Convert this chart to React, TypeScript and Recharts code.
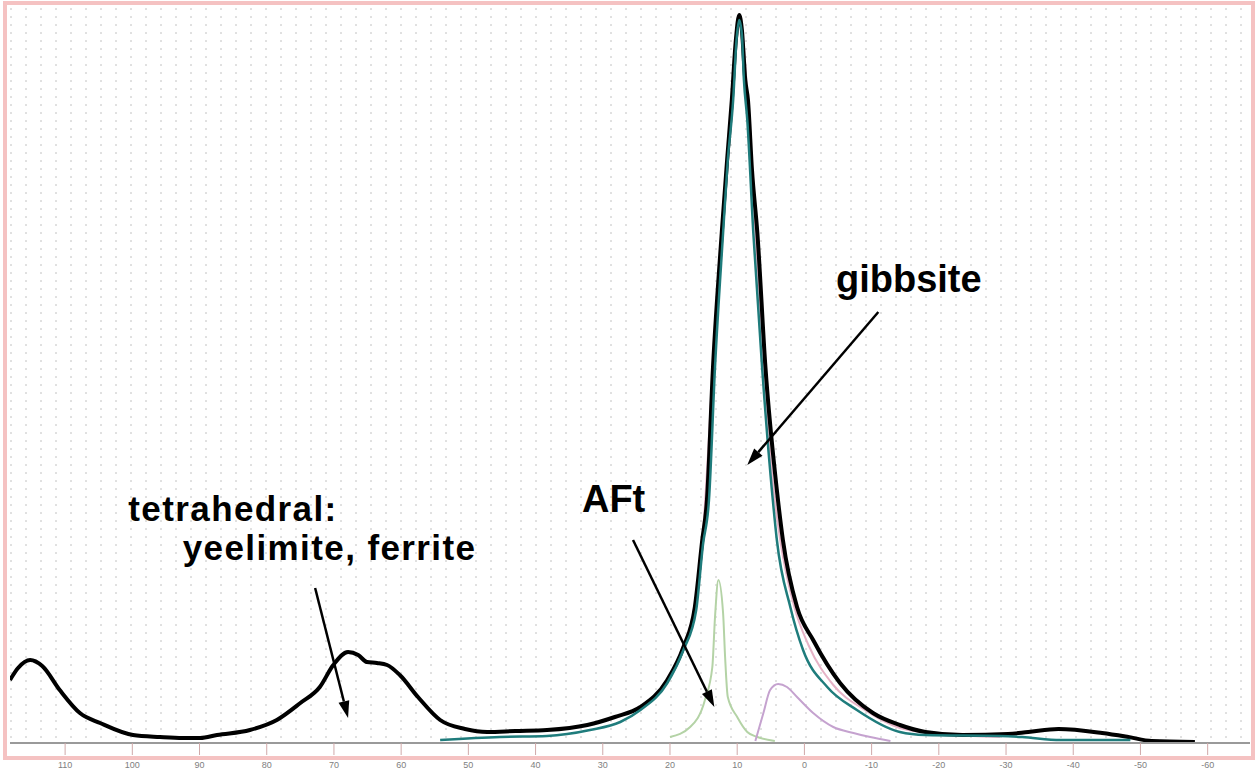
import React from 'react';
import {
  ComposedChart,
  Line,
  XAxis,
  YAxis,
  CartesianGrid,
  ReferenceLine,
  ReferenceDot,
} from 'recharts';

// 27Al MAS NMR spectrum: chemical shift (ppm) vs intensity (a.u.)
const xTicks = [110, 100, 90, 80, 70, 60, 50, 40, 30, 20, 10, 0, -10, -20, -30, -40, -50, -60];

// measured spectrum (thick black)
const totalPpm = [118.2, 117.0, 115.2, 113.4, 110.8, 107.8, 104.8, 99.9, 95.9, 92.5, 89.9, 87.4, 82.5, 78.5, 75.0, 72.1, 70.1, 67.9, 66.4, 65.1, 63.6, 62.1, 60.2, 57.5, 54.2, 50.5, 47.2, 43.0, 38.3, 32.3, 28.2, 24.4, 20.4, 18.0, 16.3, 15.2, 14.5, 13.6, 12.3, 11.5, 10.8, 10.2, 9.7, 9.3, 8.8, 8.4, 7.8, 7.0, 5.8, 4.1, 3.2, 1.1, -1.3, -5.3, -10.2, -14.2, -18.0, -23.5, -30.3, -33.3, -37.8, -44.3, -48.2, -51.7, -58.1];
const totalInt = [63, 75, 83, 77, 53, 30, 20, 8, 6, 5, 5, 8, 13, 23, 40, 56, 78, 91, 88, 81, 80, 78, 68, 46, 23, 14, 11, 12, 13, 18, 26, 36, 63, 96, 136, 203, 243, 376, 510, 583, 643, 703, 728, 713, 663, 643, 573, 510, 376, 253, 203, 136, 103, 60, 30, 18, 11, 8, 9, 11, 14, 10, 6, 2, 1];

// gibbsite fit (teal)
const gibbsitePpm = [54.2, 45.3, 38.3, 31.9, 27.4, 24.4, 20.4, 18.0, 16.1, 15.1, 14.2, 13.3, 12.1, 11.4, 10.6, 10.1, 9.7, 9.3, 9.0, 8.5, 7.6, 6.3, 4.7, 4.1, 2.1, 0.2, -3.4, -7.8, -14.2, -18.0, -29.1, -32.4, -38.1, -48.5];
const gibbsiteInt = [3, 6, 7, 13, 21, 33, 60, 93, 133, 198, 243, 376, 510, 583, 643, 703, 723, 708, 663, 623, 510, 376, 243, 203, 136, 93, 56, 33, 11, 8, 7, 6, 3, 3];

// sum of fitted components (pink)
const sumPpm = [24.4, 18.0, 15.2, 13.6, 11.5, 10.6, 9.7, 7.3, 6.1, 4.4, 3.6, 1.5, -0.6, -4.3, -9.0, -14.2, -20.2, -29.1];
const sumInt = [35, 95, 201, 376, 583, 663, 725, 510, 376, 243, 203, 136, 98, 58, 33, 15, 9, 6];

// AFt component (light green)
const aftPpm = [20.0, 17.0, 14.8, 13.7, 13.3, 12.8, 12.1, 11.8, 11.4, 10.0, 8.5, 7.0, 4.4];
const aftInt = [6, 16, 43, 76, 126, 163, 130, 86, 46, 26, 11, 6, 2];

// octahedral minor component (mauve)
const minorPpm = [7.3, 6.1, 5.1, 3.9, 2.6, 1.1, -1.3, -4.3, -7.3, -9.8, -12.8];
const minorInt = [2, 30, 53, 59, 56, 46, 30, 16, 10, 6, 2];

const toRows = (ppm: number[], val: number[]) => ppm.map((p, i) => ({ ppm: p, v: val[i] }));

const FONT = '"Liberation Sans", Arial, Helvetica, sans-serif';

const Arrow = (props: any) => {
  const { x1, y1, x2, y2 } = props;
  const ang = Math.atan2(y2 - y1, x2 - x1);
  const len = 17;
  const half = 5.5;
  const bx = x2 - len * Math.cos(ang);
  const by = y2 - len * Math.sin(ang);
  const px = -Math.sin(ang) * half;
  const py = Math.cos(ang) * half;
  return (
    <g>
      <line x1={x1} y1={y1} x2={bx} y2={by} stroke="#000" strokeWidth={2.5} />
      <polygon points={`${x2},${y2} ${bx + px},${by + py} ${bx - px},${by - py}`} fill="#000" />
    </g>
  );
};

const textShape = (label: string, size = 38, spacing = 0) => (props: any) => (
  <text
    x={props.cx}
    y={props.cy}
    fontFamily={FONT}
    fontWeight="bold"
    fontSize={size}
    letterSpacing={spacing}
    fill="#000"
  >
    {label}
  </text>
);

export default function App() {
  return (
    <div style={{ position: 'absolute', left: 0, top: 0, width: 1255, height: 771, background: '#fff' }}>
      <ComposedChart
        width={1255}
        height={771}
        margin={{ top: 3, right: 5, bottom: 0, left: 10 }}
      >
        <CartesianGrid
          vertical={false}
          stroke="#c2c2c2"
          strokeDasharray="2 13"
          horizontalCoordinatesGenerator={({ offset }: any) => {
            const ys: number[] = [];
            for (let y = offset.top + 6; y < offset.top + offset.height - 2; y += 8) ys.push(y);
            return ys;
          }}
        />
        <XAxis
          type="number"
          dataKey="ppm"
          domain={[-66.3, 118.2]}
          reversed
          ticks={xTicks}
          interval={0}
          allowDataOverflow
          height={28}
          tickSize={12}
          tickMargin={7}
          stroke="#9a9a9a"
          strokeWidth={2}
          tickLine={{ stroke: '#d0a8a8', strokeWidth: 1 }}
          tick={{ fontSize: 9, fill: '#808080', fontFamily: FONT }}
        />
        <YAxis type="number" dataKey="v" domain={[0, 740]} hide />

        <Line data={toRows(sumPpm, sumInt)} dataKey="v" type="monotone" stroke="#e6b2c6" strokeWidth={2} dot={false} isAnimationActive={false} />
        <Line data={toRows(aftPpm, aftInt)} dataKey="v" type="monotone" stroke="#b4d3a6" strokeWidth={2} dot={false} isAnimationActive={false} />
        <Line data={toRows(minorPpm, minorInt)} dataKey="v" type="monotone" stroke="#c5a2cf" strokeWidth={2} dot={false} isAnimationActive={false} />
        <Line data={toRows(totalPpm, totalInt)} dataKey="v" type="monotone" stroke="#000" strokeWidth={4} dot={false} isAnimationActive={false} />
        <Line data={toRows(gibbsitePpm, gibbsiteInt)} dataKey="v" type="monotone" stroke="#1f7c7c" strokeWidth={2.5} dot={false} isAnimationActive={false} />

        <ReferenceLine segment={[{ x: 72.8, y: 155 }, { x: 67.9, y: 25 }]} shape={Arrow} />
        <ReferenceLine segment={[{ x: 25.5, y: 203 }, { x: 13.4, y: 36 }]} shape={Arrow} />
        <ReferenceLine segment={[{ x: -11.0, y: 431 }, { x: 8.5, y: 278 }]} shape={Arrow} />

        <ReferenceDot x={100.6} y={222} r={0} shape={textShape('tetrahedral:', 35, 1.4)} />
        <ReferenceDot x={92.5} y={183} r={0} shape={textShape('yeelimite, ferrite', 35, 1.4)} />
        <ReferenceDot x={33.1} y={231} r={0} shape={textShape('AFt')} />
        <ReferenceDot x={-4.7} y={451} r={0} shape={textShape('gibbsite')} />
      </ComposedChart>
      <div
        style={{
          position: 'absolute',
          left: 3,
          top: 1,
          width: 1244,
          height: 751,
          border: '4px solid #f5c2c2',
          pointerEvents: 'none',
        }}
      />
    </div>
  );
}
